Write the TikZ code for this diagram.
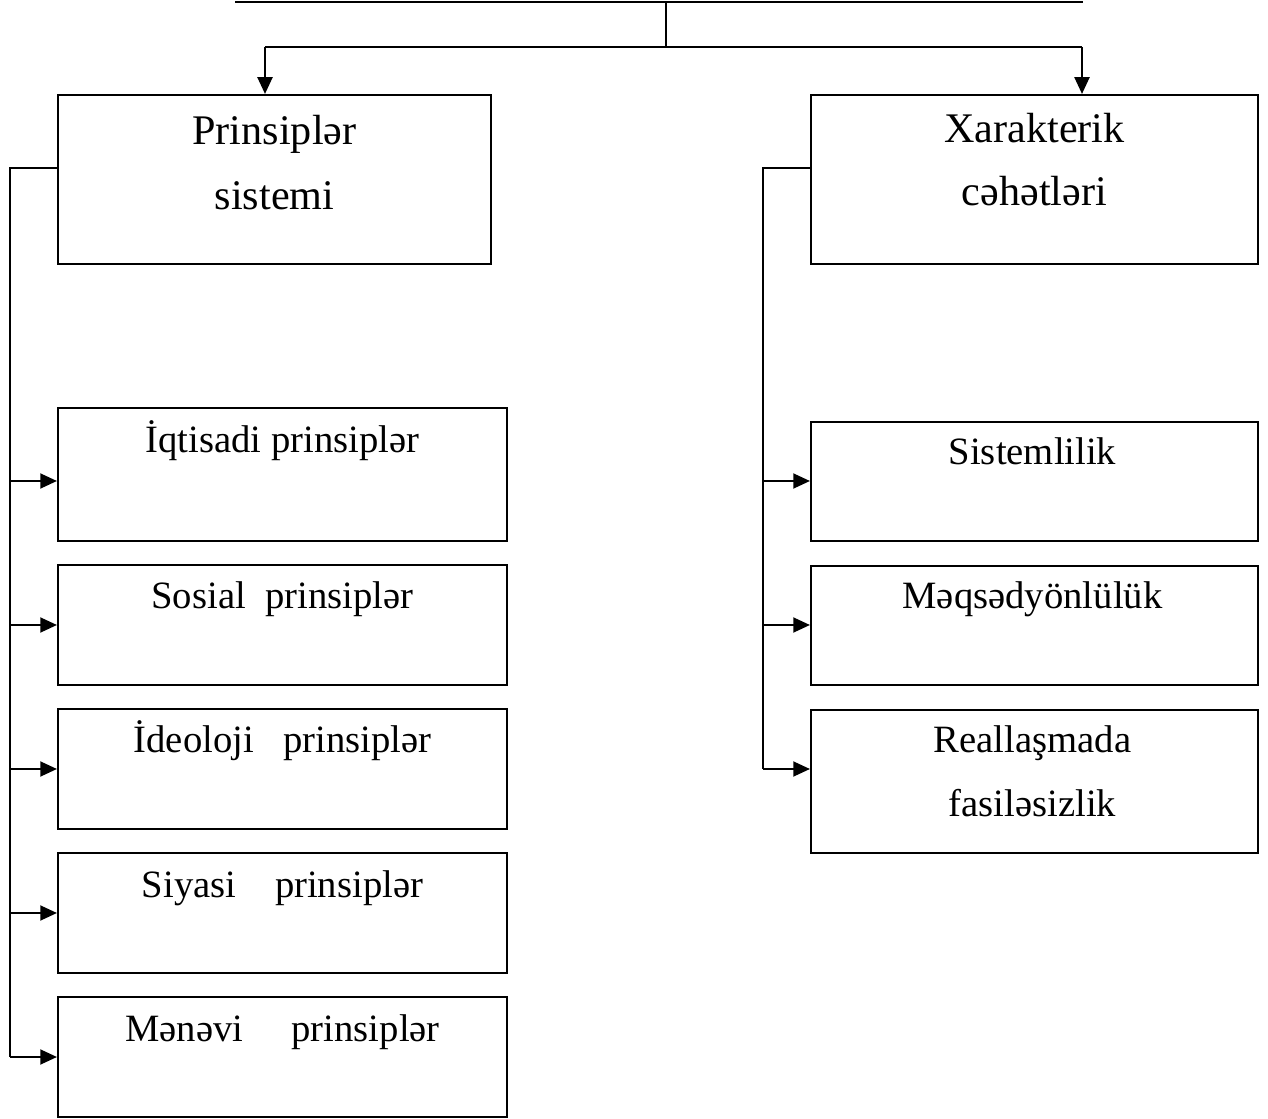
\documentclass[tikz,border=0pt]{standalone}
\usepackage{fontspec}
\setmainfont{Liberation Serif}
\usetikzlibrary{positioning, arrows.meta, calc}
\tikzset{
  box/.style 2 args={
    rectangle, draw=black, line width=1.2pt,
    minimum width=#1, minimum height=#2,
    inner sep=0pt
  },
  head/.style={font=\fontsize{24}{28}\selectfont, anchor=base, inner sep=0pt},
  item/.style={font=\fontsize{22}{26}\selectfont, anchor=base, inner sep=0pt},
  line/.style={line width=1.2pt},
  arr/.style={-{Triangle[length=9.5pt, width=8.5pt]}, line width=1.2pt},
}

\begin{document}
\begin{tikzpicture}

  \useasboundingbox (0,0) rectangle (25.36,-22.38);

  %% ── Top boxes ──────────────────────────────────────────────────────────────

  \node[box={8.66cm}{3.38cm}] (pl) at ( 5.49, -3.59) {};
  \node[head] (pl-a) at ( 5.49, -2.90) {Prinsiplər};
  \node[head] (pl-b) at ( 5.49, -4.20) {sistemi};

  \node[box={8.94cm}{3.38cm}] (xc) at (20.69, -3.59) {};
  \node[head] (xc-a) at (20.69, -2.86) {Xarakterik};
  \node[head] (xc-b) at (20.69, -4.12) {cəhətləri};

  %% ── Split from the top ─────────────────────────────────────────────────────

  \coordinate (topL) at ( 4.70, -0.04);
  \coordinate (topR) at (21.66, -0.04);
  \coordinate (topM) at (13.32, -0.04);
  \coordinate (split) at (13.32, -0.94);

  \draw[line] (topL) -- (topR);
  \draw[line] (topM) -- (split);
  \draw[line] (5.30, -0.94) -- (21.64, -0.94);
  \draw[arr] (5.30, -0.94) -- (pl.north -| 5.30, 0);
  \draw[arr] (21.64, -0.94) -- (xc.north -| 21.64, 0);

  %% ── Principles (left column) ───────────────────────────────────────────────

  \node[box={8.98cm}{2.66cm}] (ip) at (5.65,  -9.49) {};
  \node[item] (ip-t) at (5.65,  -9.06) {İqtisadi prinsiplər};

  \node[box={8.98cm}{2.40cm}] (sp) at (5.65, -12.50) {};
  \node[item] (sp-t) at (5.65, -12.18) {Sosial~~prinsiplər};

  \node[box={8.98cm}{2.40cm}] (dp) at (5.65, -15.38) {};
  \node[item] (dp-t) at (5.65, -15.06) {İdeoloji~~~prinsiplər};

  \node[box={8.98cm}{2.40cm}] (yp) at (5.65, -18.26) {};
  \node[item] (yp-t) at (5.65, -17.96) {Siyasi~~~~prinsiplər};

  \node[box={8.98cm}{2.40cm}] (mp) at (5.65, -21.14) {};
  \node[item] (mp-t) at (5.65, -20.84) {Mənəvi~~~~~prinsiplər};

  % bus on the left
  \coordinate (lbus) at (0.20, -3.36);
  \draw[line] (pl.west |- lbus) -- (lbus) -- (lbus |- mp.west);

  \draw[arr] (lbus |- 0,-9.62) -- (ip.west |- 0,-9.62);
  \draw[arr] (lbus |- sp.west) -- (sp.west);
  \draw[arr] (lbus |- dp.west) -- (dp.west);
  \draw[arr] (lbus |- yp.west) -- (yp.west);
  \draw[arr] (lbus |- mp.west) -- (mp.west);

  %% ── Features (right column) ────────────────────────────────────────────────

  \node[box={8.94cm}{2.38cm}] (sy) at (20.69,  -9.63) {};
  \node[item] (sy-t) at (20.65,  -9.30) {Sistemlilik};

  \node[box={8.94cm}{2.38cm}] (mq) at (20.69, -12.51) {};
  \node[item] (mq-t) at (20.65, -12.18) {Məqsədyönlülük};

  \node[box={8.94cm}{2.86cm}] (rf) at (20.69, -15.63) {};
  \node[item] (rf-a) at (20.65, -15.06) {Reallaşmada};
  \node[item] (rf-b) at (20.65, -16.34) {fasiləsizlik};

  % bus on the right
  \coordinate (rbus) at (15.26, -3.36);
  \draw[line] (xc.west |- rbus) -- (rbus) -- (rbus |- 0,-15.38);

  \draw[arr] (rbus |- 0,-9.62) -- (sy.west |- 0,-9.62);
  \draw[arr] (rbus |- 0,-12.50) -- (mq.west |- 0,-12.50);
  \draw[arr] (rbus |- 0,-15.38) -- (rf.west |- 0,-15.38);

\end{tikzpicture}
\end{document}
